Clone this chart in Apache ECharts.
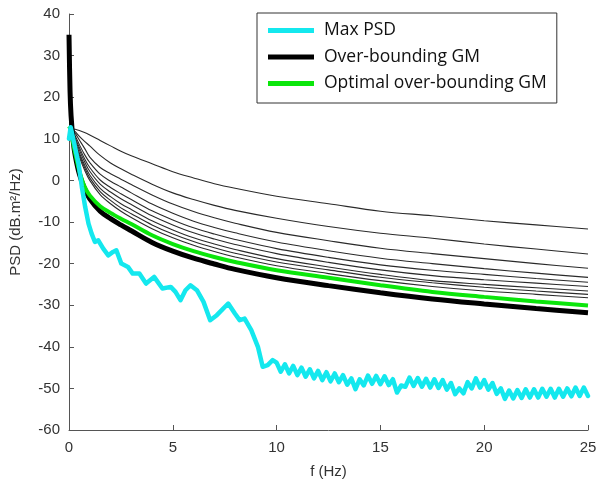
<!DOCTYPE html>
<html>
<head>
<meta charset="utf-8">
<script src="https://cdn.jsdelivr.net/npm/echarts@6/dist/echarts.min.js"></script>
<style>
html,body{margin:0;padding:0;background:#fff;}
#chart{width:600px;height:486px;}
</style>
</head>
<body>
<div id="chart"></div>
<script>
// Frequency grid (Hz) for the Gauss-Markov curves
const freq = [0, 0.05, 0.1, 0.2, 0.3, 0.5, 0.75, 1, 1.5, 2, 2.5, 3, 4, 5, 6, 7, 8, 10, 12.5, 15, 17.5, 20, 22.5, 25];

// Family of candidate over-bounding GM curves (thin)
const gm1 = [12.5, 12.5, 12.5, 12.4, 12.3, 12.0, 11.5, 10.9, 9.6, 8.3, 7.0, 5.9, 4.0, 2.1, 0.6, -0.8, -1.9, -3.8, -5.6, -7.4, -8.5, -9.7, -10.7, -11.7];
const gm2 = [12.5, 12.5, 12.4, 12.1, 11.7, 10.6, 9.4, 8.3, 6.0, 4.2, 2.8, 1.5, -0.9, -3.0, -4.6, -6.0, -7.2, -9.1, -11.1, -12.7, -13.9, -15.3, -16.5, -17.7];
const gm3 = [12.5, 12.5, 12.3, 11.9, 11.3, 9.7, 7.7, 5.6, 3.1, 1.6, 0.3, -1.0, -3.5, -5.7, -7.5, -9.0, -10.3, -12.5, -14.5, -16.3, -17.6, -18.8, -20.0, -21.1];
const gm4 = [12.5, 12.4, 12.2, 11.6, 10.7, 8.6, 6.2, 4.3, 1.5, -0.2, -1.6, -3.0, -5.7, -7.9, -9.8, -11.3, -12.6, -14.8, -16.9, -18.7, -20.0, -21.2, -22.3, -23.3];
const gm5 = [12.5, 12.4, 12.1, 11.3, 10.2, 7.9, 5.2, 3.1, 0.1, -1.7, -3.2, -4.6, -7.3, -9.5, -11.4, -12.9, -14.2, -16.4, -18.5, -20.3, -21.6, -22.6, -23.6, -24.5];
const gm6 = [12.5, 12.4, 12.0, 11.0, 9.8, 7.3, 4.5, 2.2, -0.9, -2.8, -4.4, -5.8, -8.5, -10.7, -12.6, -14.1, -15.4, -17.6, -19.7, -21.5, -22.9, -23.9, -24.7, -25.5];
const gm7 = [12.5, 12.4, 11.9, 10.7, 9.3, 6.6, 3.7, 1.3, -1.9, -3.9, -5.6, -7.0, -9.7, -11.9, -13.8, -15.3, -16.6, -18.8, -20.8, -22.6, -24.1, -25.0, -25.8, -26.6];
const gm8 = [12.5, 12.4, 11.8, 10.5, 9.0, 6.1, 3.1, 0.6, -2.7, -4.8, -6.6, -8.0, -10.7, -12.9, -14.7, -16.2, -17.5, -19.6, -21.5, -23.3, -24.6, -25.7, -26.6, -27.4];
const gm9 = [12.5, 12.4, 11.7, 10.2, 8.6, 5.6, 2.5, 0.0, -3.4, -5.6, -7.4, -8.9, -11.6, -13.8, -15.6, -17.1, -18.4, -20.5, -22.4, -24.1, -25.5, -26.6, -27.4, -28.2];

// Over-bounding GM (thick black) and optimal over-bounding GM (green)
const overBounding = [35.0, 21.5, 15.5, 9.5, 6.0, 1.5, -2.0, -4.4, -7.4, -9.2, -10.7, -12.1, -14.9, -17.0, -18.7, -20.1, -21.4, -23.4, -25.3, -27.0, -28.5, -29.7, -30.8, -31.8];
const optimalOverBounding = [13.0, 12.5, 11.5, 9.0, 6.5, 2.2, -1.5, -3.6, -6.2, -7.8, -9.2, -10.5, -13.2, -15.3, -17.0, -18.4, -19.6, -21.6, -23.4, -25.2, -26.8, -28.0, -29.1, -30.1];

// Max PSD (cyan)
const maxPsdFreq = [0, 0.08, 0.22, 0.46, 0.62, 0.78, 0.94, 1.09, 1.25, 1.41, 1.65, 1.89, 2.12, 2.28, 2.52, 2.84, 3.07, 3.39, 3.71, 4.1, 4.5, 4.9, 5.13, 5.37, 5.61, 5.85, 6.16, 6.48, 6.8, 7.12, 7.67, 7.99, 8.22, 8.46, 8.78, 9.1, 9.33, 9.57, 9.81,
  10.0, 10.2, 10.4, 10.6, 10.8, 11.0, 11.2, 11.4, 11.6, 11.8,
  12.0, 12.2, 12.4, 12.6, 12.8, 13.0, 13.2, 13.4, 13.6, 13.8,
  14.0, 14.2, 14.4, 14.6, 14.8, 15.0, 15.2, 15.4, 15.6, 15.8,
  16.0, 16.2, 16.4, 16.6, 16.8, 17.0, 17.2, 17.4, 17.6, 17.8,
  18.0, 18.2, 18.4, 18.6, 18.8, 19.0, 19.2, 19.4, 19.6, 19.8,
  20.0, 20.2, 20.4, 20.6, 20.8, 21.0, 21.2, 21.4, 21.6, 21.8,
  22.0, 22.2, 22.4, 22.6, 22.8, 23.0, 23.2, 23.4, 23.6, 23.8,
  24.0, 24.2, 24.4, 24.6, 24.8, 25.0];
const maxPsdVal = [10.0, 12.8, 9.6, 4.0, -1.6, -6.4, -10.4, -12.8, -14.8, -14.4, -16.4, -18.0, -17.2, -16.8, -20.0, -20.8, -22.4, -22.4, -24.8, -23.2, -26.0, -25.6, -26.8, -28.8, -26.4, -25.2, -26.4, -29.2, -33.6, -32.4, -29.6, -32.0, -33.6, -33.2, -36.0, -40.0, -44.8, -44.4, -43.2,
  -43.8, -46.0, -44.2, -46.4, -44.6, -46.8, -45.0, -47.2, -45.4, -47.6,
  -45.8, -48.0, -46.1, -48.3, -46.4, -48.5, -46.8, -49.1, -47.6, -50.2,
  -47.8, -49.3, -46.9, -48.9, -47.0, -49.0, -47.1, -49.2, -47.8, -51.0,
  -49.3, -49.6, -47.4, -49.4, -47.5, -49.6, -47.7, -49.8, -47.8, -49.9,
  -48.0, -50.3, -48.7, -51.4, -50.0, -51.2, -48.5, -50.0, -47.6, -49.8,
  -48.0, -50.3, -48.7, -51.3, -50.0, -52.5, -50.5, -52.4, -50.4, -52.3,
  -50.2, -52.2, -50.2, -52.2, -50.1, -52.0, -50.1, -52.2, -50.1, -52.0,
  -50.0, -51.9, -49.8, -51.8, -49.8, -51.8];

const legendNames = ['Max PSD', 'Over-bounding GM', 'Optimal over-bounding GM'];

function pairs(xs, ys) { return xs.map((x, i) => [x, ys[i]]); }

const thinCurves = [gm1, gm2, gm3, gm4, gm5, gm6, gm7, gm8, gm9];
const series = [];
thinCurves.forEach((c, i) => {
  series.push({
    name: 'gm' + (i + 1), type: 'line', data: pairs(freq, c),
    showSymbol: false, smooth: 0.35,
    lineStyle: { color: '#2a2a2a', width: 1.1 }, z: 2
  });
});
series.push({
  name: legendNames[1], type: 'line', data: pairs(freq, overBounding),
  showSymbol: false, smooth: 0.35,
  itemStyle: { color: '#000' },
  lineStyle: { color: '#000', width: 5 }, z: 3
});
series.push({
  name: legendNames[2], type: 'line', data: pairs(freq, optimalOverBounding),
  showSymbol: false, smooth: 0.35,
  itemStyle: { color: '#0be60b' },
  lineStyle: { color: '#0be60b', width: 4 }, z: 4
});
series.push({
  name: legendNames[0], type: 'line', data: pairs(maxPsdFreq, maxPsdVal),
  showSymbol: false, smooth: false,
  itemStyle: { color: '#14e8ee' },
  lineStyle: { color: '#14e8ee', width: 4.5, join: 'round', cap: 'round' }, z: 5
});

const axisColor = '#555';
const labelFont = { fontFamily: 'Liberation Sans', fontSize: 15, color: '#333' };

const chart = echarts.init(document.getElementById('chart'), null, { renderer: 'canvas' });
chart.setOption({
  animation: false,
  backgroundColor: '#fff',
  grid: { left: 62, right: 12, top: 14, bottom: 56, containLabel: false },
  legend: {
    data: legendNames,
    orient: 'vertical',
    left: 257, top: 13,
    padding: [7, 10, 9, 11],
    itemGap: 5.5,
    itemWidth: 46, itemHeight: 5,
    icon: 'rect',
    backgroundColor: '#fff',
    borderColor: '#333', borderWidth: 1,
    textStyle: { fontFamily: 'Open Sans', fontSize: 17.5, color: '#111', lineHeight: 21, padding: [0, 0, 0, 5] }
  },
  xAxis: {
    type: 'value', min: 0, max: 25, interval: 5,
    name: 'f (Hz)', nameLocation: 'middle', nameGap: 34,
    nameTextStyle: labelFont,
    axisLine: { show: true, onZero: false, lineStyle: { color: axisColor, width: 1 } },
    axisTick: { show: true, inside: true, length: 5, lineStyle: { color: axisColor } },
    axisLabel: Object.assign({ margin: 10 }, labelFont),
    splitLine: { show: false }
  },
  yAxis: {
    type: 'value', min: -60, max: 40, interval: 10,
    name: 'PSD (dB.m²/Hz)', nameLocation: 'middle', nameGap: 46, nameRotate: 90,
    nameTextStyle: labelFont,
    axisLine: { show: true, onZero: false, lineStyle: { color: axisColor, width: 1 } },
    axisTick: { show: true, inside: true, length: 5, lineStyle: { color: axisColor } },
    axisLabel: Object.assign({ margin: 9 }, labelFont),
    splitLine: { show: false }
  },
  series: series
});
</script>
</body>
</html>
